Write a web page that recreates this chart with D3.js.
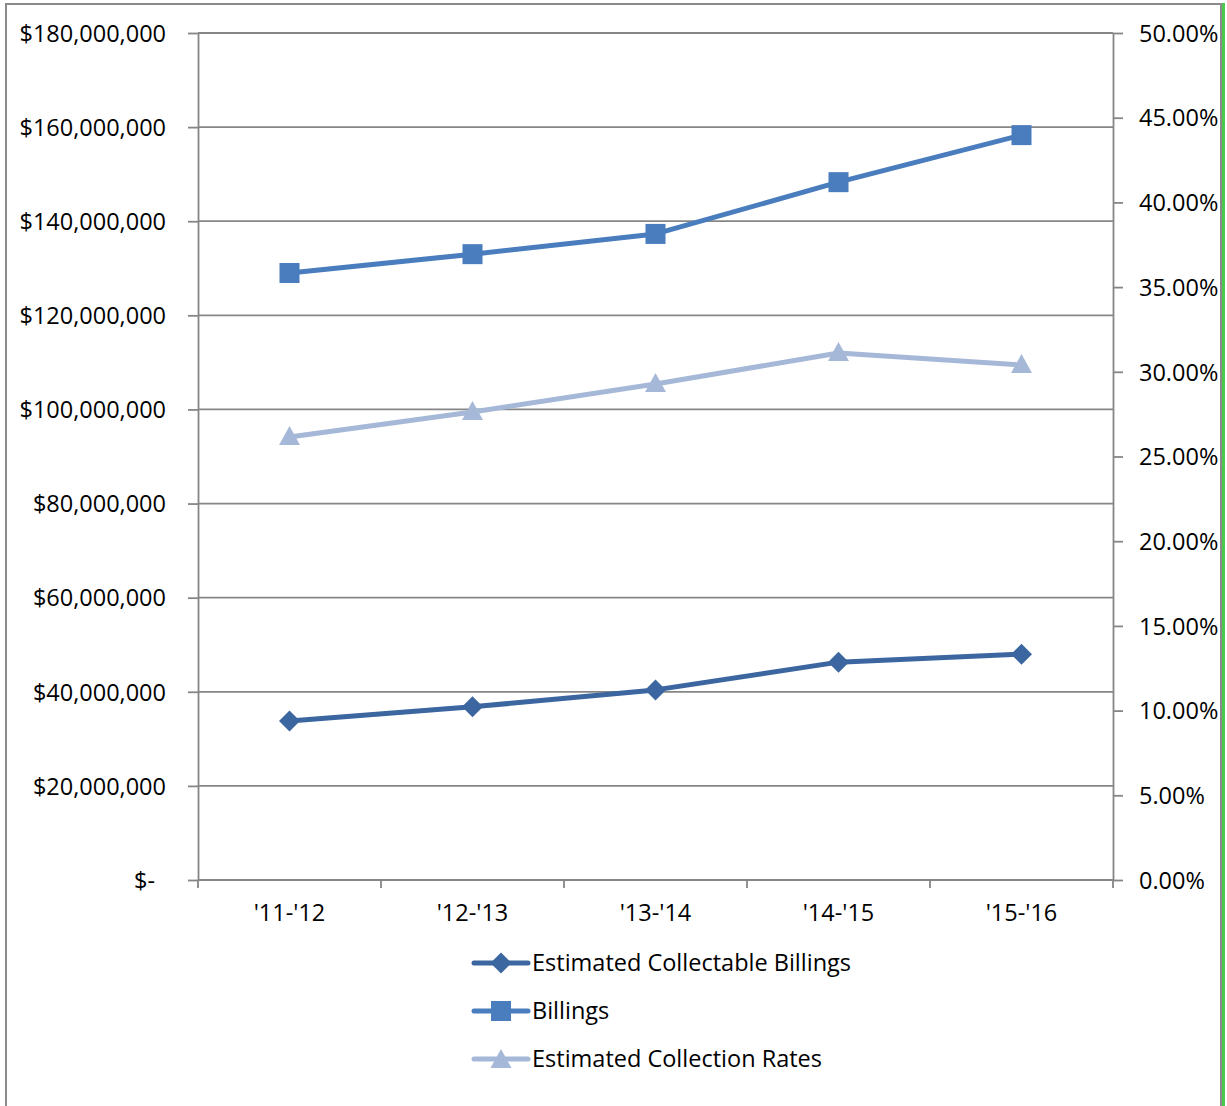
<!DOCTYPE html>
<html>
<head>
<meta charset="utf-8">
<script src="https://cdn.jsdelivr.net/npm/d3@7"></script>
<style>
  html, body { margin: 0; padding: 0; background: #fff; }
  svg { display: block; }
  text { font-family: "Open Sans", sans-serif; fill: #000; }
</style>
</head>
<body>
<svg id="chart" width="1227" height="1106"></svg>
<script>
// Fiscal years on the category axis
const years = ["'11-'12", "'12-'13", "'13-'14", "'14-'15", "'15-'16"];

// Dollar series (left axis)
const billings = [129000000, 133000000, 137300000, 148300000, 158300000];
const collectable = [33800000, 36800000, 40400000, 46300000, 48000000];

// Rate series (right axis)
const collectionRates = [0.2615, 0.2763, 0.2928, 0.3111, 0.3040];

// Axis tick values and labels
const leftTicks = [0, 20000000, 40000000, 60000000, 80000000, 100000000, 120000000, 140000000, 160000000, 180000000];
const leftTickLabels = ["$-", "$20,000,000", "$40,000,000", "$60,000,000", "$80,000,000", "$100,000,000", "$120,000,000", "$140,000,000", "$160,000,000", "$180,000,000"];
const rightTicks = [0, 0.05, 0.10, 0.15, 0.20, 0.25, 0.30, 0.35, 0.40, 0.45, 0.50];

const seriesNames = ["Estimated Collectable Billings", "Billings", "Estimated Collection Rates"];

const colors = { collectable: "#3b66a0", billings: "#4a7dbd", rates: "#a6b8d8" };
const gridColor = "#868686";
const fontSize = 23.5;

const svg = d3.select("#chart");
const plot = { left: 198, right: 1113, top: 33, bottom: 880 };

// Frame
svg.append("line").attr("x1", 5).attr("x2", 1221).attr("y1", 4).attr("y2", 4)
  .attr("stroke", "#8a8a8a").attr("stroke-width", 2);
svg.append("line").attr("x1", 6).attr("x2", 6).attr("y1", 3).attr("y2", 1106)
  .attr("stroke", "#8a8a8a").attr("stroke-width", 2);
svg.append("line").attr("x1", 1221).attr("x2", 1221).attr("y1", 3).attr("y2", 1106)
  .attr("stroke", "#8a8a8a").attr("stroke-width", 2);
svg.append("line").attr("x1", 1223.5).attr("x2", 1223.5).attr("y1", 3).attr("y2", 1106)
  .attr("stroke", "#4cc84c").attr("stroke-width", 3);

// Scales
const x = d3.scaleBand().domain(years).range([plot.left, plot.right]).paddingInner(0).paddingOuter(0);
const yL = d3.scaleLinear().domain([0, 180000000]).range([plot.bottom, plot.top]);
const yR = d3.scaleLinear().domain([0, 0.5]).range([plot.bottom, plot.top]);

// Horizontal gridlines
svg.append("g").selectAll("line").data(leftTicks.slice(1)).join("line")
  .attr("x1", plot.left).attr("x2", plot.right)
  .attr("y1", d => yL(d)).attr("y2", d => yL(d))
  .attr("stroke", gridColor).attr("stroke-width", 1.8);

// Left axis
const leftAxis = d3.axisLeft(yL).tickValues(leftTicks)
  .tickFormat((d, i) => leftTickLabels[i]).tickSizeInner(10).tickSizeOuter(0).tickPadding(22);
const gL = svg.append("g").attr("transform", `translate(${plot.left},0)`).call(leftAxis);
gL.select(".domain").attr("stroke", gridColor).attr("stroke-width", 1.8);
gL.selectAll(".tick line").attr("stroke", gridColor).attr("stroke-width", 1.8);
gL.selectAll(".tick text").attr("font-size", fontSize).attr("font-family", "Open Sans, sans-serif")
  .attr("fill", "#000").attr("dy", "0.35em")
  .attr("dx", d => d === 0 ? -11 : 0);

// Right axis
const rightAxis = d3.axisRight(yR).tickValues(rightTicks)
  .tickFormat(d3.format(".2%")).tickSizeInner(10).tickSizeOuter(0).tickPadding(16);
const gR = svg.append("g").attr("transform", `translate(${plot.right},0)`).call(rightAxis);
gR.select(".domain").attr("stroke", gridColor).attr("stroke-width", 1.8);
gR.selectAll(".tick line").attr("stroke", gridColor).attr("stroke-width", 1.8);
gR.selectAll(".tick text").attr("font-size", fontSize).attr("font-family", "Open Sans, sans-serif")
  .attr("fill", "#000").attr("dy", "0.35em");

// Bottom axis: ticks at category boundaries, labels at centers
const gB = svg.append("g").attr("transform", `translate(0,${plot.bottom})`);
gB.append("line").attr("x1", plot.left).attr("x2", plot.right).attr("y1", 0).attr("y2", 0)
  .attr("stroke", gridColor).attr("stroke-width", 1.8);
const boundaries = years.map(d => x(d)).concat([x(years[years.length - 1]) + x.bandwidth()]);
gB.selectAll("line.tk").data(boundaries).join("line").attr("class", "tk")
  .attr("x1", d => d).attr("x2", d => d).attr("y1", 0).attr("y2", 8)
  .attr("stroke", gridColor).attr("stroke-width", 1.8);
gB.selectAll("text").data(years).join("text")
  .attr("x", d => x(d) + x.bandwidth() / 2).attr("y", 41)
  .attr("text-anchor", "middle").attr("font-size", fontSize).text(d => d);

const cx = d => x(d) + x.bandwidth() / 2;

// Marker shapes
function drawMarker(g, kind, px, py, color) {
  if (kind === "diamond") {
    const s = 10.5;
    g.append("path").attr("d", `M${px},${py - s}L${px + s},${py}L${px},${py + s}L${px - s},${py}Z`).attr("fill", color);
  } else if (kind === "square") {
    g.append("rect").attr("x", px - 10).attr("y", py - 10).attr("width", 20).attr("height", 20).attr("fill", color);
  } else {
    g.append("path").attr("d", `M${px},${py - 11}L${px + 10.5},${py + 8}L${px - 10.5},${py + 8}Z`).attr("fill", color);
  }
}

// Series
const series = [
  { name: seriesNames[0], values: collectable, scale: yL, color: colors.collectable, marker: "diamond" },
  { name: seriesNames[1], values: billings, scale: yL, color: colors.billings, marker: "square" },
  { name: seriesNames[2], values: collectionRates, scale: yR, color: colors.rates, marker: "triangle" }
];

series.forEach(s => {
  const g = svg.append("g");
  const line = d3.line().x((d, i) => cx(years[i])).y(d => s.scale(d));
  g.append("path").datum(s.values).attr("d", line).attr("fill", "none")
    .attr("stroke", s.color).attr("stroke-width", 5).attr("stroke-linejoin", "round");
  s.values.forEach((v, i) => drawMarker(g, s.marker, cx(years[i]), s.scale(v), s.color));
});

// Legend
const legend = svg.append("g");
series.forEach((s, i) => {
  const ly = 963 + i * 48;
  legend.append("line").attr("x1", 474).attr("x2", 528).attr("y1", ly).attr("y2", ly)
    .attr("stroke", s.color).attr("stroke-width", 5).attr("stroke-linecap", "round");
  drawMarker(legend, s.marker, 501, ly + (s.marker === "triangle" ? 1 : 0), s.color);
  legend.append("text").attr("x", 532).attr("y", ly).attr("dy", "0.35em")
    .attr("font-size", fontSize).text(s.name);
});
</script>
</body>
</html>
